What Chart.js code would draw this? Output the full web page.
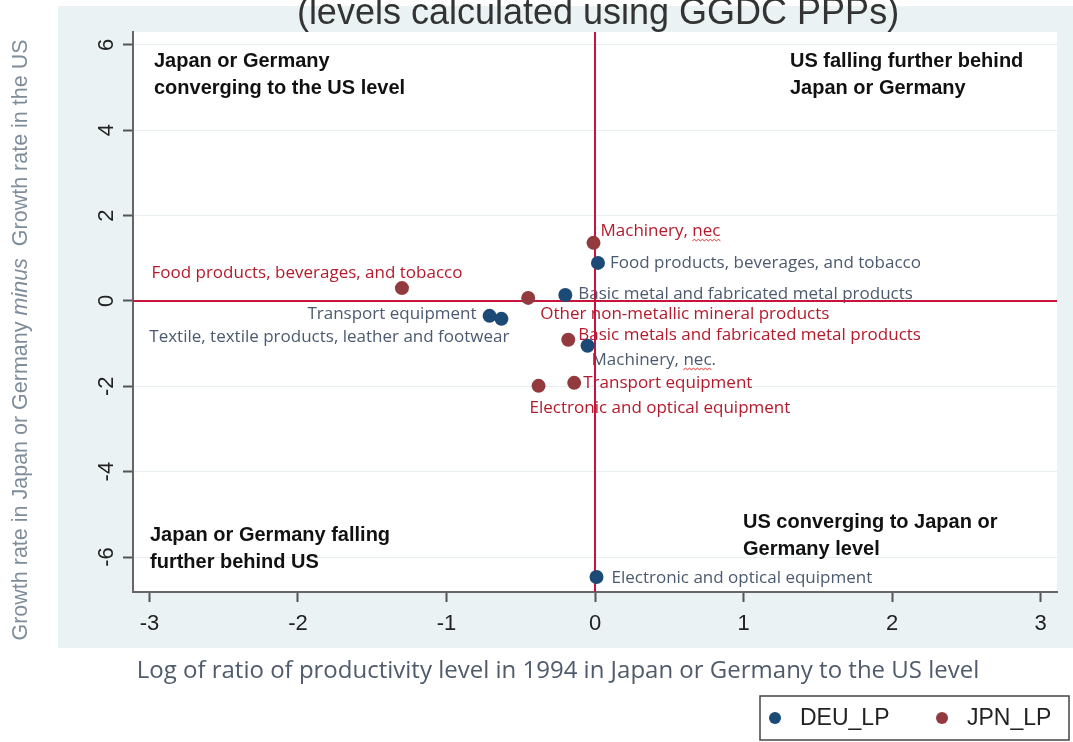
<!DOCTYPE html>
<html>
<head>
<meta charset="utf-8">
<script src="https://cdn.jsdelivr.net/npm/chart.js@4.4.1/dist/chart.umd.min.js"></script>
<style>
  html, body { margin: 0; padding: 0; background: #fff; }
  #wrap { width: 1073px; height: 742px; position: relative; }
</style>
</head>
<body>
<div id="wrap"><canvas id="chart" width="1073" height="742"></canvas></div>
<script>
// Germany (DEU_LP) industries
const deuLabels = [
  'Food products, beverages, and tobacco',
  'Basic metal and fabricated metal products',
  'Transport equipment',
  'Textile, textile products, leather and footwear',
  'Machinery, nec.',
  'Electronic and optical equipment'
];
const deuX = [0.02, -0.20, -0.71, -0.63, -0.05, 0.01];
const deuY = [0.89, 0.14, -0.35, -0.42, -1.05, -6.47];

// Japan (JPN_LP) industries
const jpnLabels = [
  'Machinery, nec',
  'Food products, beverages, and tobacco',
  'Other non-metallic mineral products',
  'Basic metals and fabricated metal products',
  'Transport equipment',
  'Electronic and optical equipment'
];
const jpnX = [-0.01, -1.30, -0.45, -0.18, -0.14, -0.38];
const jpnY = [1.36, 0.30, 0.07, -0.91, -1.92, -1.99];

// axis ticks
const xTicks = [-3, -2, -1, 0, 1, 2, 3];
const yTicks = [-6, -4, -2, 0, 2, 4, 6];

// label placement (offset from marker, text align) - styling only
const deuLabelPos = [
  { dx: 12, dy: 0, align: 'left' },
  { dx: 13, dy: -1, align: 'left' },
  { dx: -13, dy: -2, align: 'right' },
  { dx: 8, dy: 18, align: 'right' },
  { dx: 4, dy: 14, align: 'left' },
  { dx: 15, dy: 1, align: 'left' }
];
const jpnLabelPos = [
  { dx: 7, dy: -12, align: 'left' },
  { dx: -95, dy: -15, align: 'center' },
  { dx: 12, dy: 16, align: 'left' },
  { dx: 10, dy: -5, align: 'left' },
  { dx: 9, dy: 0, align: 'left' },
  { dx: -9, dy: 22, align: 'left' }
];

const BLUE = '#1b4a76';
const RED = '#933a3f';
const LINE_RED = '#c8143c';
const LABEL_FONT = '17px "Open Sans"';

// red squiggle like a spell-check mark under a word
function squiggle(ctx, x1, x2, y) {
  ctx.save();
  ctx.strokeStyle = '#e0302a';
  ctx.lineWidth = 1;
  ctx.beginPath();
  let up = true;
  ctx.moveTo(x1, y);
  for (let x = x1 + 2; x <= x2; x += 2) {
    ctx.lineTo(x, up ? y - 1.5 : y);
    up = !up;
  }
  ctx.stroke();
  ctx.restore();
}

// Draw backgrounds, titles, reference lines and labels
const decor = {
  id: 'decor',
  beforeDraw(chart) {
    const { ctx, chartArea } = chart;
    ctx.save();
    ctx.fillStyle = '#ffffff';
    ctx.fillRect(0, 0, chart.width, chart.height);
    ctx.fillStyle = '#eaf2f3';
    ctx.fillRect(58, 6, chart.width - 58, 642);
    ctx.fillStyle = '#ffffff';
    ctx.fillRect(chartArea.left, chartArea.top, chartArea.right - chartArea.left, chartArea.bottom - chartArea.top);
    ctx.restore();
  },
  beforeDatasetsDraw(chart) {
    const { ctx, chartArea, scales } = chart;
    const xs = scales.x, ys = scales.y;
    ctx.save();

    // marker labels
    ctx.font = LABEL_FONT;
    ctx.textBaseline = 'middle';
    const drawLabels = (labels, xv, yv, pos, color) => {
      ctx.fillStyle = color;
      labels.forEach((t, i) => {
        const px = xs.getPixelForValue(xv[i]);
        const py = ys.getPixelForValue(yv[i]);
        const tx = px + pos[i].dx, ty = py + pos[i].dy;
        ctx.textAlign = pos[i].align;
        ctx.fillText(t, tx, ty);
        // mark the "nec" word the way the source shows it
        const k = t.indexOf('nec');
        if (k >= 0 && pos[i].align === 'left') {
          const a = tx + ctx.measureText(t.slice(0, k)).width;
          const b = a + ctx.measureText('nec').width;
          squiggle(ctx, a, b, ty + 10);
        }
      });
    };
    drawLabels(deuLabels, deuX, deuY, deuLabelPos, '#4b5a6e');
    drawLabels(jpnLabels, jpnX, jpnY, jpnLabelPos, '#b31b2c');

    // reference lines at zero
    ctx.strokeStyle = LINE_RED;
    ctx.lineWidth = 2;
    const x0 = xs.getPixelForValue(0);
    const y0 = ys.getPixelForValue(0);
    ctx.beginPath();
    ctx.moveTo(x0, chartArea.top);
    ctx.lineTo(x0, chartArea.bottom);
    ctx.moveTo(chartArea.left, y0);
    ctx.lineTo(chartArea.right, y0);
    ctx.stroke();

    // quadrant notes
    ctx.fillStyle = '#111';
    ctx.font = 'bold 20px "Liberation Sans"';
    ctx.textAlign = 'left';
    ctx.textBaseline = 'alphabetic';
    ctx.fillText('Japan or Germany', 154, 67);
    ctx.fillText('converging to the US level', 154, 94);
    ctx.fillText('US falling further behind', 790, 67);
    ctx.fillText('Japan or Germany', 790, 94);
    ctx.fillText('Japan or Germany falling', 150, 541);
    ctx.fillText('further behind US', 150, 568);
    ctx.fillText('US converging to Japan or', 743, 528);
    ctx.fillText('Germany level', 743, 555);
    ctx.restore();
  },
  afterDraw(chart) {
    const { ctx, scales } = chart;
    const ys = scales.y;
    ctx.save();

    // y tick labels, rotated
    ctx.fillStyle = '#222';
    ctx.font = '22px "Liberation Sans"';
    ctx.textAlign = 'center';
    ctx.textBaseline = 'middle';
    yTicks.forEach(v => {
      ctx.save();
      ctx.translate(107, ys.getPixelForValue(v));
      ctx.rotate(-Math.PI / 2);
      ctx.fillText(String(v), 0, 0);
      ctx.restore();
    });

    // title (cut at top)
    ctx.fillStyle = '#333';
    ctx.font = '36px "Liberation Sans"';
    ctx.textBaseline = 'alphabetic';
    ctx.fillText('(levels calculated using GGDC PPPs)', 598, 24);

    // y axis title
    ctx.save();
    ctx.translate(27, 340);
    ctx.rotate(-Math.PI / 2);
    ctx.fillStyle = '#7f8d9b';
    ctx.textBaseline = 'alphabetic';
    const fs = '21.5px "Liberation Sans"';
    const fi = 'italic 21.5px "Liberation Sans"';
    const p1 = 'Growth rate in Japan or Germany ';
    const p2 = 'minus';
    const p3 = '  Growth rate in the US';
    ctx.font = fs;
    const w1 = ctx.measureText(p1).width;
    const w3 = ctx.measureText(p3).width;
    ctx.font = fi;
    const w2 = ctx.measureText(p2).width;
    const sx = -(w1 + w2 + w3) / 2;
    ctx.textAlign = 'left';
    ctx.font = fs;
    ctx.fillText(p1, sx, 0);
    ctx.font = fi;
    ctx.fillText(p2, sx + w1, 0);
    ctx.font = fs;
    ctx.fillText(p3, sx + w1 + w2, 0);
    ctx.restore();

    // x axis title
    ctx.fillStyle = '#4f5b6b';
    ctx.font = '24px "Open Sans"';
    ctx.textAlign = 'center';
    ctx.textBaseline = 'middle';
    ctx.fillText('Log of ratio of productivity level in 1994 in Japan or Germany to the US level', 558, 671);

    // legend box
    ctx.fillStyle = '#fff';
    ctx.fillRect(760, 696, 309, 44);
    ctx.strokeStyle = '#444';
    ctx.lineWidth = 1.5;
    ctx.strokeRect(760, 696, 309, 44);
    ctx.font = '23px "Liberation Sans"';
    ctx.textAlign = 'left';
    ctx.textBaseline = 'middle';
    chart.data.datasets.forEach((ds, i) => {
      const lx = 775 + i * 167;
      ctx.fillStyle = ds.backgroundColor;
      ctx.beginPath();
      ctx.arc(lx, 718, 6, 0, Math.PI * 2);
      ctx.fill();
      ctx.fillStyle = '#222';
      ctx.fillText(ds.label, lx + 25, 719);
    });
    ctx.restore();
  }
};

const toPoints = (xs, ys) => xs.map((x, i) => ({ x: x, y: ys[i] }));

new Chart(document.getElementById('chart'), {
  type: 'scatter',
  data: {
    datasets: [
      { label: 'DEU_LP', data: toPoints(deuX, deuY), backgroundColor: BLUE, borderWidth: 0, pointRadius: 7 },
      { label: 'JPN_LP', data: toPoints(jpnX, jpnY), backgroundColor: RED, borderWidth: 0, pointRadius: 7 }
    ]
  },
  options: {
    responsive: false,
    animation: false,
    layout: { padding: { left: 0, right: 16, top: 32, bottom: 50 } },
    plugins: { legend: { display: false }, tooltip: { enabled: false } },
    scales: {
      x: {
        type: 'linear',
        min: -3.111,
        max: 3.111,
        afterBuildTicks: s => { s.ticks = xTicks.map(v => ({ value: v })); },
        afterFit: s => { s.height = 100; },
        grid: { drawOnChartArea: false, tickLength: 10, tickColor: '#555', tickWidth: 2 },
        border: { display: true, color: '#666', width: 2 },
        ticks: { color: '#222', font: { family: 'Liberation Sans', size: 22 }, padding: 9 }
      },
      y: {
        type: 'linear',
        min: -6.82,
        max: 6.30,
        afterBuildTicks: s => { s.ticks = yTicks.map(v => ({ value: v })); },
        afterFit: s => { s.width = 133; },
        grid: { color: '#e6eef0', lineWidth: 1, tickLength: 10, tickColor: '#555', tickWidth: 2 },
        border: { display: true, color: '#666', width: 2 },
        ticks: { display: false }
      }
    }
  },
  plugins: [decor]
});
</script>
</body>
</html>
